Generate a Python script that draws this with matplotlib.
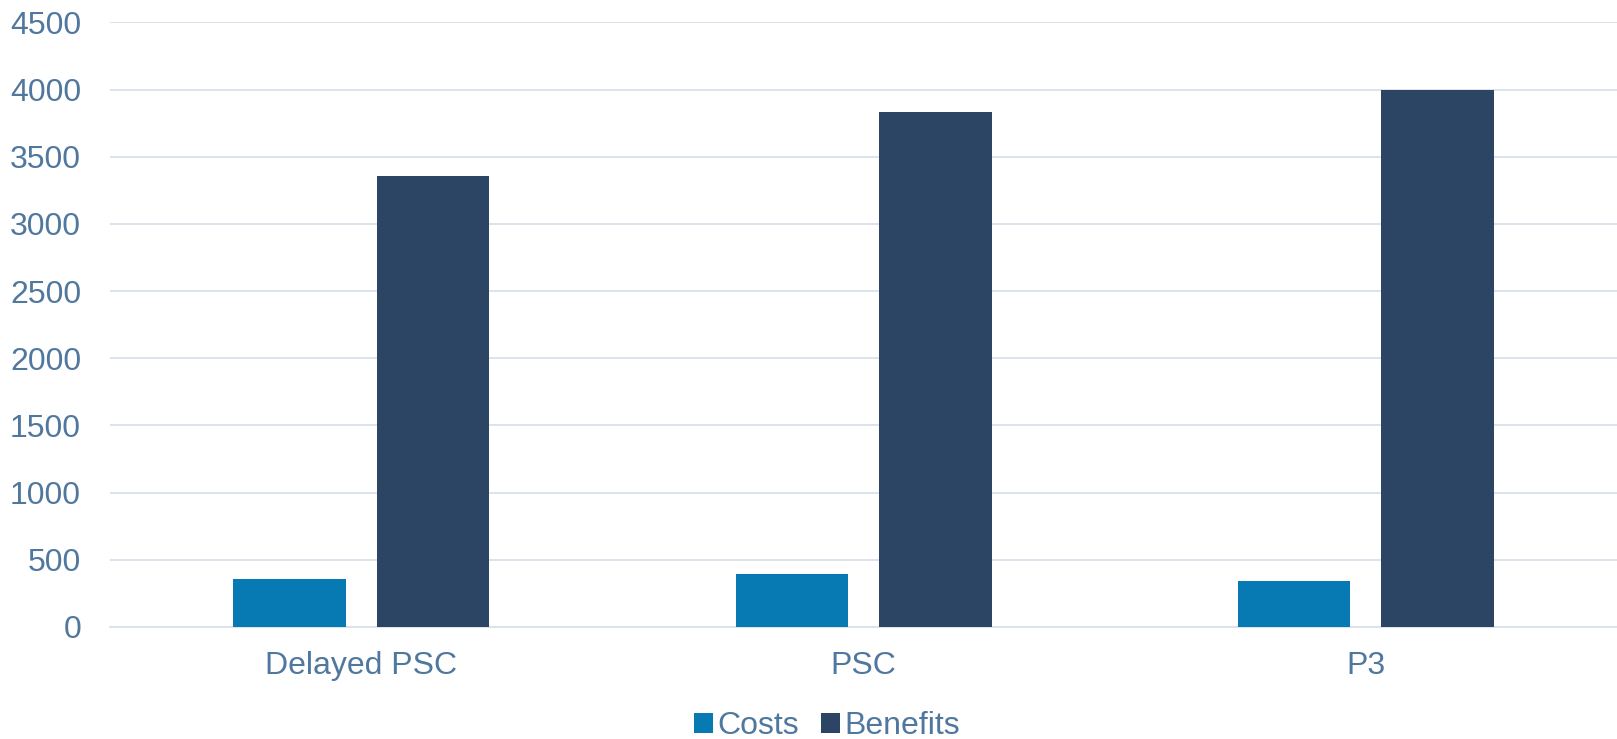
import matplotlib.pyplot as plt
import numpy as np

plt.rcParams['font.family'] = ['Liberation Sans', 'DejaVu Sans']

categories = ['Delayed PSC', 'PSC', 'P3']
costs = [355, 395, 340]
benefits = [3360, 3830, 3995]
yticks = [0, 500, 1000, 1500, 2000, 2500, 3000, 3500, 4000, 4500]

TEXT = '#50779E'
GRID = '#D9E1EB'

fig = plt.figure(figsize=(16.17, 7.39), dpi=100)
ax = fig.add_axes([0.0682, 0.1516, 0.9318, 0.8180])

x = np.arange(len(categories))
w = 0.224
off = 0.1427
ax.bar(x - off, costs, w, color='#087AB3', label='Costs', zorder=3)
ax.bar(x + off, benefits, w, color='#2D4564', label='Benefits', zorder=3)

ax.set_xlim(-0.5, len(categories) - 0.5)
ax.set_ylim(0, 4500)
ax.set_yticks(yticks)
ax.set_xticks(x)
ax.set_xticklabels(categories)

ax.grid(axis='y', color=GRID, linewidth=1.3, zorder=0)
ax.set_axisbelow(True)
for s in ['top', 'right', 'left']:
    ax.spines[s].set_visible(False)
ax.spines['bottom'].set_color(GRID)
ax.spines['bottom'].set_linewidth(1.3)

ax.tick_params(axis='y', length=0, pad=21, labelsize=23, labelcolor=TEXT)
ax.tick_params(axis='x', length=0, pad=17, labelsize=23, labelcolor=TEXT)

leg = ax.legend(loc='center', bbox_to_anchor=(0.4757, -0.164), ncol=2,
                frameon=False, fontsize=23, handlelength=0.6,
                handleheight=0.6, handletextpad=0.12, columnspacing=0.7,
                borderpad=0.2)
for t in leg.get_texts():
    t.set_color(TEXT)

fig.savefig('out.png', dpi=100)
